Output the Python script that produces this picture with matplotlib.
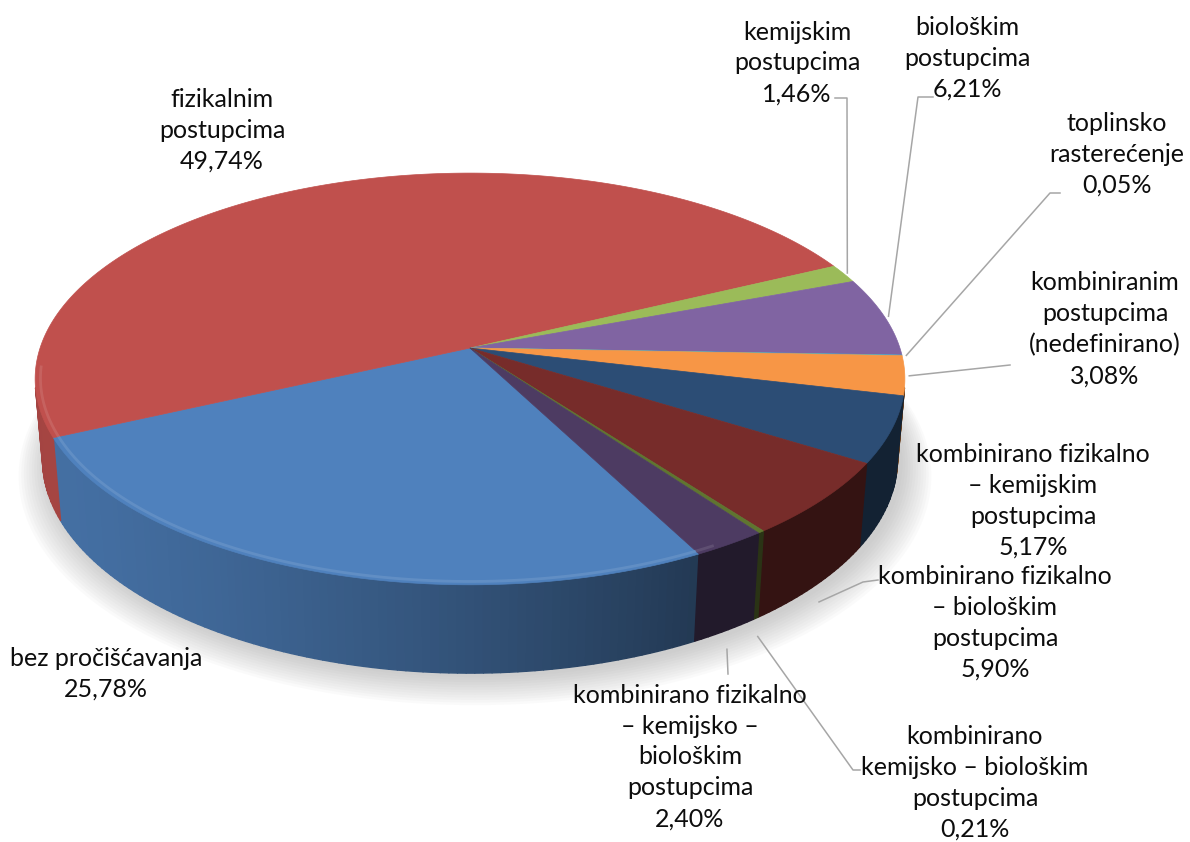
import numpy as np
import matplotlib
matplotlib.use("Agg")
import matplotlib.pyplot as plt
from matplotlib.patches import Polygon
from matplotlib.collections import PolyCollection
from matplotlib.colors import to_rgb

# Data (Excel order, slices run clockwise)
categories = [
    "bez pročišćavanja",
    "fizikalnim\npostupcima",
    "kemijskim\npostupcima",
    "biološkim\npostupcima",
    "toplinsko\nrasterećenje",
    "kombiniranim\npostupcima\n(nedefinirano)",
    "kombinirano fizikalno\n– kemijskim\npostupcima",
    "kombinirano fizikalno\n– biološkim\npostupcima",
    "kombinirano\nkemijsko – biološkim\npostupcima",
    "kombinirano fizikalno\n– kemijsko –\nbiološkim\npostupcima",
]
shares = [25.78, 49.74, 1.46, 6.21, 0.05, 3.08, 5.17, 5.90, 0.21, 2.40]
colors = ["#4F81BD", "#C0504D", "#9BBB59", "#8064A2", "#4BACC6",
          "#F79646", "#2C4D75", "#772C2A", "#5F7530", "#4D3B62"]

# label block centres (pixels) and leader elbows near the label
label_pos = [(106, 674), (222, 130), (797, 63), (967, 58), (1117, 154),
             (1105, 329), (1033, 501), (995, 623), (975, 783), (690, 757)]
leaders = [None, None,
           [(835, 98), (847, 98)],
           [(933, 97), (918, 97)],
           [(1060, 193), (1050, 193)],
           [(1010, 365)],
           None,
           [(878, 580), (863, 582)],
           [(860, 770), (853, 770)],
           [(728, 674)]]

# 3D view setup (pixel space)
CX, CY = 470, 348
FOC, DIST = 2528, 5.88
ELEV = np.arcsin(0.468)
SIN, COS = np.sin(ELEV), np.cos(ELEV)
DEPTH = 0.212
FIRST_ANGLE = 297.5


def proj(theta, r=1.0, z=0.0):
    t = np.radians(theta)
    X = r * np.cos(t)
    Y = r * np.sin(t)
    yc = Y * SIN + z * COS
    d = DIST + Y * COS - z * SIN
    return CX + FOC * X / d, CY - FOC * yc / d


def shade(c, f):
    return tuple(np.clip(np.array(to_rgb(c)) * f, 0, 1))


def lighten(c, f):
    c = np.array(to_rgb(c))
    return tuple(c + (1 - c) * f)


def side_factor(theta):
    return max(0.44, 0.46 + 0.40 * np.cos(np.radians(theta - 205)))


fig = plt.figure(figsize=(11.9, 8.42), dpi=100)
ax = fig.add_axes([0, 0, 1, 1])
ax.set_xlim(0, 1190)
ax.set_ylim(842, 0)
ax.axis("off")

# slice angle ranges
cum = np.concatenate([[0], np.cumsum(shares)]) / sum(shares) * 360
spans = [(FIRST_ANGLE - cum[i + 1], FIRST_ANGLE - cum[i]) for i in range(len(shares))]

# soft shadow under the pie
full = np.linspace(0, 360, 361)
for k in range(12):
    bx, by = proj(full, r=1.0 + k * 0.006, z=-DEPTH)
    ax.add_patch(Polygon(np.column_stack([bx + 5, by + 4 + k * 0.8]), closed=True,
                         facecolor="#808080", edgecolor="none", alpha=0.035, zorder=1))

# visible side wall range
vis_lo = 180 + np.degrees(np.arcsin(1 / (DIST * COS)))
vis_hi = 360 - np.degrees(np.arcsin(1 / (DIST * COS)))

quads, qcols = [], []
for (a0, a1), col in zip(spans, colors):
    for off in (0, 360, -360):
        lo, hi = max(a0 + off, vis_lo), min(a1 + off, vis_hi)
        if hi <= lo:
            continue
        steps = np.linspace(lo, hi, max(2, int(hi - lo) + 2))
        for t0, t1 in zip(steps[:-1], steps[1:]):
            x0, y0 = proj(t0)
            x1, y1 = proj(t1)
            x2, y2 = proj(t1, z=-DEPTH)
            x3, y3 = proj(t0, z=-DEPTH)
            quads.append([(x0, y0), (x1, y1), (x2, y2), (x3, y3)])
            qcols.append(shade(col, side_factor((t0 + t1) / 2)))
ax.add_collection(PolyCollection(quads, facecolors=qcols, edgecolors=qcols,
                                 linewidths=1.0, zorder=2))

# top faces
for (a0, a1), col in zip(spans, colors):
    th = np.linspace(a0, a1, max(3, int((a1 - a0) / 0.5) + 2))
    tx, ty = proj(th)
    pts = np.column_stack([np.r_[CX, tx], np.r_[CY, ty]])
    ax.add_patch(Polygon(pts, closed=True, facecolor=col, edgecolor=col,
                         linewidth=0.5, zorder=3))
    # bevel highlight along the front rim
    for off in (0, 360, -360):
        lo, hi = max(a0 + off, 185), min(a1 + off, 300)
        if hi > lo:
            bt = np.linspace(lo, hi, 80)
            hx, hy = proj(bt, r=0.988)
            ax.plot(hx, hy, color=lighten(col, 0.15), lw=2.0, alpha=0.7,
                    solid_capstyle="butt", zorder=4)

# labels and leader lines
for i, (name, val) in enumerate(zip(categories, shares)):
    txt = name + "\n" + f"{val:.2f}".replace(".", ",") + "%"
    lx, ly = label_pos[i]
    ax.text(lx, ly, txt, ha="center", va="center", fontsize=18,
            family="Lato", color="#0d0d0d", linespacing=1.42, zorder=6)
    if leaders[i]:
        a0, a1 = spans[i]
        mid = (a0 + a1) / 2
        if np.sin(np.radians(mid)) < -0.5:
            ax_, ay_ = proj(mid, r=1.01, z=-DEPTH - 0.04)
        else:
            ax_, ay_ = proj(mid, r=1.01)
        px = [p[0] for p in leaders[i]] + [ax_]
        py = [p[1] for p in leaders[i]] + [ay_]
        ax.plot(px, py, color="#a6a6a6", lw=1.1, zorder=5)

fig.savefig("out.png", dpi=100)
